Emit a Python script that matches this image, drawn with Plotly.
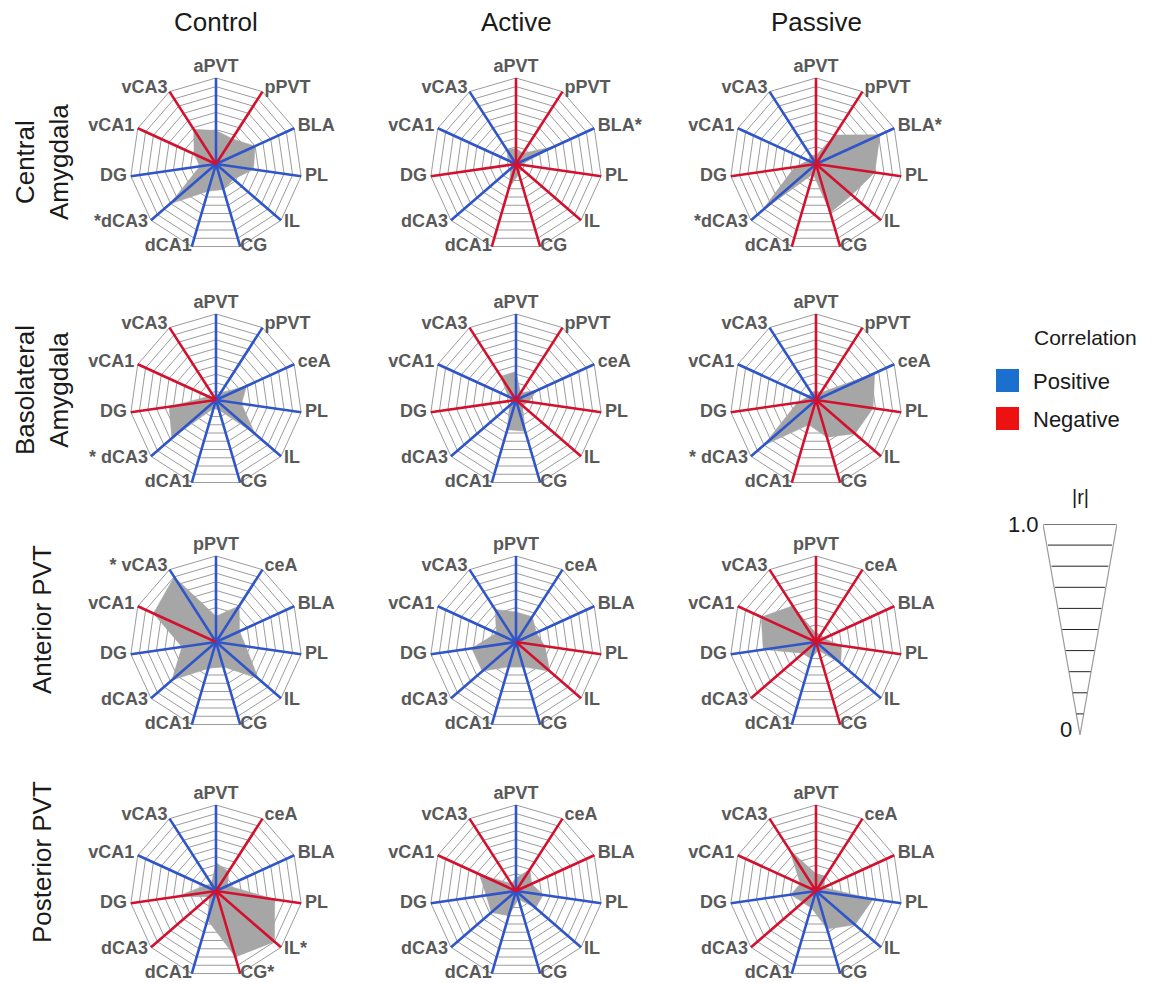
import plotly.graph_objects as go

W, H = 1152, 984

conditions = ["Control", "Active", "Passive"]
regions = ["Central<br>Amygdala", "Basolateral<br>Amygdala", "Anterior PVT", "Posterior PVT"]

# ---- spoke labels (asterisk = significant) ----
cea_control_labels = ["aPVT", "pPVT", "BLA", "PL", "IL", "CG", "dCA1", "*dCA3", "DG", "vCA1", "vCA3"]
cea_active_labels = ["aPVT", "pPVT", "BLA*", "PL", "IL", "CG", "dCA1", "dCA3", "DG", "vCA1", "vCA3"]
cea_passive_labels = ["aPVT", "pPVT", "BLA*", "PL", "IL", "CG", "dCA1", "*dCA3", "DG", "vCA1", "vCA3"]
bla_control_labels = ["aPVT", "pPVT", "ceA", "PL", "IL", "CG", "dCA1", "* dCA3", "DG", "vCA1", "vCA3"]
bla_active_labels = ["aPVT", "pPVT", "ceA", "PL", "IL", "CG", "dCA1", "dCA3", "DG", "vCA1", "vCA3"]
bla_passive_labels = ["aPVT", "pPVT", "ceA", "PL", "IL", "CG", "dCA1", "* dCA3", "DG", "vCA1", "vCA3"]
apvt_control_labels = ["pPVT", "ceA", "BLA", "PL", "IL", "CG", "dCA1", "dCA3", "DG", "vCA1", "* vCA3"]
apvt_active_labels = ["pPVT", "ceA", "BLA", "PL", "IL", "CG", "dCA1", "dCA3", "DG", "vCA1", "vCA3"]
apvt_passive_labels = ["pPVT", "ceA", "BLA", "PL", "IL", "CG", "dCA1", "dCA3", "DG", "vCA1", "vCA3"]
ppvt_control_labels = ["aPVT", "ceA", "BLA", "PL", "IL*", "CG*", "dCA1", "dCA3", "DG", "vCA1", "vCA3"]
ppvt_active_labels = ["aPVT", "ceA", "BLA", "PL", "IL", "CG", "dCA1", "dCA3", "DG", "vCA1", "vCA3"]
ppvt_passive_labels = ["aPVT", "ceA", "BLA", "PL", "IL", "CG", "dCA1", "dCA3", "DG", "vCA1", "vCA3"]

# ---- |r| values ----
cea_control_r = [0.39, 0.35, 0.50, 0.44, 0.27, 0.31, 0.33, 0.71, 0.19, 0.28, 0.48]
cea_active_r = [0.18, 0.15, 0.50, 0.06, 0.08, 0.12, 0.30, 0.08, 0.05, 0.10, 0.20]
cea_passive_r = [0.10, 0.40, 0.82, 0.69, 0.55, 0.59, 0.12, 0.84, 0.25, 0.10, 0.12]
bla_control_r = [0.05, 0.10, 0.39, 0.30, 0.60, 0.12, 0.10, 0.68, 0.55, 0.10, 0.05]
bla_active_r = [0.33, 0.10, 0.27, 0.15, 0.10, 0.38, 0.36, 0.10, 0.05, 0.10, 0.33]
bla_passive_r = [0.10, 0.10, 0.75, 0.67, 0.60, 0.45, 0.30, 0.81, 0.22, 0.10, 0.10]
apvt_control_r = [0.30, 0.50, 0.30, 0.35, 0.65, 0.30, 0.32, 0.68, 0.40, 0.80, 0.90]
apvt_active_r = [0.35, 0.35, 0.26, 0.34, 0.52, 0.30, 0.30, 0.52, 0.52, 0.25, 0.45]
apvt_passive_r = [0.10, 0.10, 0.10, 0.30, 0.38, 0.10, 0.20, 0.20, 0.62, 0.70, 0.50]
ppvt_control_r = [0.33, 0.27, 0.15, 0.69, 0.90, 0.80, 0.35, 0.10, 0.46, 0.15, 0.10]
ppvt_active_r = [0.15, 0.30, 0.20, 0.32, 0.30, 0.10, 0.30, 0.38, 0.35, 0.47, 0.10]
ppvt_passive_r = [0.20, 0.20, 0.10, 0.67, 0.60, 0.46, 0.20, 0.20, 0.30, 0.20, 0.57]

# ---- correlation sign per spoke (+1 positive, -1 negative) ----
cea_control_sign = [1, -1, 1, 1, 1, 1, 1, 1, 1, -1, -1]
cea_active_sign = [-1, -1, 1, -1, -1, -1, -1, 1, -1, 1, 1]
cea_passive_sign = [-1, -1, 1, -1, -1, -1, -1, 1, -1, 1, 1]
bla_control_sign = [1, 1, 1, 1, 1, 1, 1, 1, -1, -1, -1]
bla_active_sign = [1, -1, 1, -1, -1, 1, 1, 1, -1, 1, -1]
bla_passive_sign = [-1, -1, 1, -1, -1, -1, -1, 1, -1, 1, 1]
apvt_control_sign = [1, 1, 1, 1, 1, 1, 1, 1, 1, -1, 1]
apvt_active_sign = [1, 1, 1, -1, -1, 1, 1, 1, 1, 1, 1]
apvt_passive_sign = [-1, -1, -1, -1, 1, -1, 1, -1, 1, -1, -1]
ppvt_control_sign = [1, -1, 1, -1, -1, -1, 1, -1, -1, 1, 1]
ppvt_active_sign = [1, -1, -1, 1, 1, 1, 1, 1, 1, -1, -1]
ppvt_passive_sign = [-1, -1, -1, 1, 1, 1, 1, -1, 1, -1, -1]

panels = [
    [(cea_control_labels, cea_control_r, cea_control_sign),
     (cea_active_labels, cea_active_r, cea_active_sign),
     (cea_passive_labels, cea_passive_r, cea_passive_sign)],
    [(bla_control_labels, bla_control_r, bla_control_sign),
     (bla_active_labels, bla_active_r, bla_active_sign),
     (bla_passive_labels, bla_passive_r, bla_passive_sign)],
    [(apvt_control_labels, apvt_control_r, apvt_control_sign),
     (apvt_active_labels, apvt_active_r, apvt_active_sign),
     (apvt_passive_labels, apvt_passive_r, apvt_passive_sign)],
    [(ppvt_control_labels, ppvt_control_r, ppvt_control_sign),
     (ppvt_active_labels, ppvt_active_r, ppvt_active_sign),
     (ppvt_passive_labels, ppvt_passive_r, ppvt_passive_sign)],
]

scale_levels = [0.1, 0.2, 0.3, 0.4, 0.5, 0.6, 0.7, 0.8, 0.9, 1.0]

# label anchoring around the web (Excel-like: top centred, sides beside spoke ends)
label_positions = ["top center"] + ["middle right"] * 5 + ["middle left"] * 5
label_radius = [1.02, 1.045, 1.045, 1.045, 1.045, 1.0, 1.0, 1.045, 1.045, 1.045, 1.045]
R_MAX = 1.06   # radial range slightly beyond 1 so labels can sit just outside the web

# ---- styling ----
BLUE = "#2f55c8"
RED = "#d3102e"
FILL = "#a6a6a6"
GRID = "#9c9c9c"
LABEL = "#595959"
FONT = "Liberation Sans, Arial, sans-serif"

col_x = [216, 516, 816]
row_y = [164, 400, 642, 891]
RAD = 86 * R_MAX

fig = go.Figure()
layout = {}

k = 0
for i, row in enumerate(panels):
    for j, (labels, rvals, signs) in enumerate(row):
        k += 1
        name = "polar" if k == 1 else f"polar{k}"
        # filled |r| polygon
        fig.add_trace(go.Scatterpolar(
            r=list(rvals) + [rvals[0]], theta=list(labels) + [labels[0]],
            mode="lines", fill="toself", fillcolor=FILL,
            line=dict(color=FILL, width=0.5), subplot=name,
            showlegend=False, hoverinfo="skip"))
        # coloured spokes
        for sgn, col in ((1, BLUE), (-1, RED)):
            th, rr = [], []
            for lab, s in zip(labels, signs):
                if s == sgn:
                    th += [lab, lab, None]
                    rr += [0, 1, None]
            fig.add_trace(go.Scatterpolar(
                r=rr, theta=th, mode="lines",
                line=dict(color=col, width=2.6), subplot=name,
                showlegend=False, hoverinfo="skip", connectgaps=False))
        # spoke labels beside the spoke ends
        fig.add_trace(go.Scatterpolar(
            r=label_radius, theta=labels, text=labels, mode="text",
            textposition=label_positions, cliponaxis=False,
            textfont=dict(family=FONT, size=18, color=LABEL, weight="bold"),
            subplot=name, showlegend=False, hoverinfo="skip"))
        cx, cy = col_x[j], row_y[i]
        layout[name] = dict(
            domain=dict(x=[(cx - RAD) / W, (cx + RAD) / W],
                        y=[1 - (cy + RAD) / H, 1 - (cy - RAD) / H]),
            gridshape="linear",
            bgcolor="rgba(0,0,0,0)",
            radialaxis=dict(range=[0, R_MAX], tickvals=scale_levels, showticklabels=False,
                            ticks="", showline=False, gridcolor=GRID, gridwidth=1),
            angularaxis=dict(type="category", categoryorder="array", categoryarray=labels,
                             direction="clockwise", rotation=90,
                             showline=False, showgrid=False, ticks="", showticklabels=False),
        )

# ---- |r| scale triangle on a hidden cartesian axis ----
tri_x, tri_y = [0, -0.5, 0.5, 0], [0, 1, 1, 0]
fig.add_trace(go.Scatter(x=tri_x, y=tri_y, mode="lines",
                         line=dict(color="#9a9a9a", width=1.2),
                         showlegend=False, hoverinfo="skip", xaxis="x", yaxis="y"))
lx, ly = [], []
for v in scale_levels:
    lx += [-v / 2 * 0.96, v / 2 * 0.96, None]
    ly += [v, v, None]
fig.add_trace(go.Scatter(x=lx, y=ly, mode="lines", line=dict(color="#222222", width=1),
                         showlegend=False, hoverinfo="skip", xaxis="x", yaxis="y"))

layout["xaxis"] = dict(domain=[1043 / W, 1117 / W], range=[-0.5, 0.5], visible=False, fixedrange=True)
layout["yaxis"] = dict(domain=[1 - 735 / H, 1 - 524 / H], range=[0, 1], visible=False, fixedrange=True)

annotations = []
for j, c in enumerate(conditions):
    annotations.append(dict(text=c, x=col_x[j] / W, y=1 - 22 / H, xref="paper", yref="paper",
                            showarrow=False, font=dict(family=FONT, size=26, color="#1a1a1a"),
                            xanchor="center", yanchor="middle"))
for i, rname in enumerate(regions):
    ycen = [162, 390, 620, 862][i]
    annotations.append(dict(text=rname, x=42 / W, y=1 - ycen / H, xref="paper", yref="paper",
                            showarrow=False, textangle=-90,
                            font=dict(family=FONT, size=26, color="#1a1a1a"),
                            xanchor="center", yanchor="middle"))
# legend
annotations += [
    dict(text="Correlation", x=1085 / W, y=1 - 337 / H, xref="paper", yref="paper", showarrow=False,
         font=dict(family=FONT, size=21, color="#1a1a1a"), xanchor="center", yanchor="middle"),
    dict(text="Positive", x=1031 / W, y=1 - 381 / H, xref="paper", yref="paper", showarrow=False,
         font=dict(family=FONT, size=22, color="#1a1a1a"), xanchor="left", yanchor="middle"),
    dict(text="Negative", x=1031 / W, y=1 - 419 / H, xref="paper", yref="paper", showarrow=False,
         font=dict(family=FONT, size=22, color="#1a1a1a"), xanchor="left", yanchor="middle"),
    dict(text="|r|", x=0, y=1, xref="x", yref="y", showarrow=False, yshift=14,
         font=dict(family=FONT, size=20, color="#1a1a1a"), xanchor="center", yanchor="bottom"),
    dict(text="1.0", x=-0.5, y=1, xref="x", yref="y", showarrow=False, xshift=-2,
         font=dict(family=FONT, size=22, color="#1a1a1a"), xanchor="right", yanchor="middle"),
    dict(text="0", x=0, y=0, xref="x", yref="y", showarrow=False, xshift=-6, yshift=6,
         font=dict(family=FONT, size=22, color="#1a1a1a"), xanchor="right", yanchor="middle"),
]
shapes = [
    dict(type="rect", xref="paper", yref="paper", x0=996 / W, x1=1019 / W,
         y0=1 - 392 / H, y1=1 - 369 / H, fillcolor="#1a6fcf", line=dict(width=0)),
    dict(type="rect", xref="paper", yref="paper", x0=996 / W, x1=1019 / W,
         y0=1 - 430 / H, y1=1 - 407 / H, fillcolor="#ee1111", line=dict(width=0)),
]

fig.update_layout(width=W, height=H, margin=dict(l=0, r=0, t=0, b=0),
                  paper_bgcolor="white", plot_bgcolor="white",
                  annotations=annotations, shapes=shapes, showlegend=False, **layout)

fig.write_html("out.html", config={"displayModeBar": False},
               post_script="document.body.style.margin='0';document.body.style.overflow='hidden';")
